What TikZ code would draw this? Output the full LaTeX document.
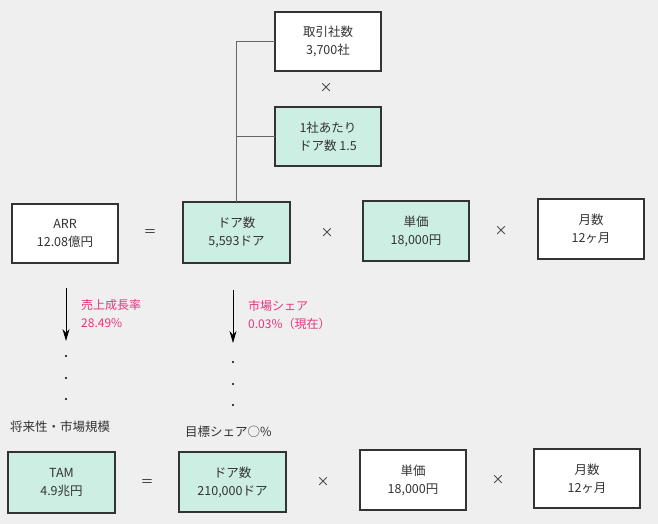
\documentclass[tikz,border=0pt]{standalone}
\usepackage{fontspec}
\setmainfont{Noto Sans CJK JP}
\usetikzlibrary{arrows.meta}
\definecolor{bgc}{HTML}{EFEFEF}
\definecolor{mint}{HTML}{CDEEE2}
\definecolor{edge}{HTML}{333333}
\definecolor{txt}{HTML}{333333}
\definecolor{pinkc}{HTML}{E8337D}
\definecolor{linec}{HTML}{666666}
\tikzset{
  box/.style={draw=edge, line width=2pt, fill=white, minimum width=106pt, minimum height=59pt,
    align=center, text=txt, font=\fontsize{12.5}{18}\selectfont, inner sep=0pt, outer sep=0pt},
  gbox/.style={box, fill=mint},
  op/.style={text=txt, font=\fontsize{13}{15}\selectfont, inner sep=0pt},
  lbl/.style={text=txt, font=\fontsize{12.5}{18}\selectfont, inner sep=0pt},
  plbl/.style={text=pinkc, font=\fontsize{12}{18}\selectfont, align=left, anchor=west, inner sep=0pt},
  darr/.style={draw=black, line width=0.9pt, -{Stealth[length=12pt,width=7pt]}},
  dotc/.style={fill=black, draw=none},
  brk/.style={draw=linec, line width=1.5pt}
}
\begin{document}
\begin{tikzpicture}[x=1pt,y=-1pt]
\fill[bgc] (0,0) rectangle (658,524);
\useasboundingbox (0,0) rectangle (658,524);

% top branch
\node[box]  (cust) at (328,41.5) {取引社数\\3,700社};
\node[op]   (x0)   at (326,88) {×};
\node[gbox] (per)  at (328,136.5) {1社あたり\\ドア数 1.5};

% row 1
\node[box]  (arr)   at (65,233.5)    {ARR\\12.08億円};
\node[op]   (eq1)   at (150,233)   {＝};
\node[gbox, minimum width=107pt, minimum height=61pt] (door1) at (236.5,232.5) {ドア数\\5,593ドア};
\node[op]   (x1)    at (327,233)   {×};
\node[gbox, minimum height=60pt] (price1) at (416,231) {単価\\18,000円};
\node[op]   (x2)    at (501,231)   {×};
\node[box, minimum height=60pt]  (month1) at (591,229) {月数\\12ヶ月};

\draw[brk] (cust.west) -| (door1.north);
\draw[brk] (per.west) -- (per.west -| door1.north);

% arrows and labels
\coordinate (a1s) at (66,288);
\coordinate (a1e) at (66,341);
\draw[darr] (a1s) -- (a1e);
\node[plbl] (g1) at (81,314) {売上成長率\\28.49\%};
\coordinate (a2s) at (233,290);
\coordinate (a2e) at (233,343);
\draw[darr] (a2s) -- (a2e);
\node[plbl] (g2) at (248,315.5) {市場シェア\\0.03\%（現在）};

\foreach \yy in {356,378,399} \fill[dotc] (66,\yy) circle (1.1pt);
\foreach \yy in {362,384,405} \fill[dotc] (233,\yy) circle (1.1pt);

\node[lbl] (fut) at (60,427) {将来性・市場規模};
\node[lbl] (tgt) at (228.5,432) {目標シェア○\%};

% row 2
\node[gbox, minimum width=107pt, minimum height=61pt] (tam) at (61.5,482.5) {TAM\\4.9兆円};
\node[op]   (eq2)   at (147,483)   {＝};
\node[gbox, minimum width=107pt, minimum height=60pt] (door2) at (232.5,482) {ドア数\\210,000ドア};
\node[op]   (x3)    at (323,482)   {×};
\node[box, minimum height=60pt]  (price2) at (413,480) {単価\\18,000円};
\node[op]   (x4)    at (498,480)   {×};
\node[box]  (month2) at (587,478.5) {月数\\12ヶ月};
\end{tikzpicture}
\end{document}
